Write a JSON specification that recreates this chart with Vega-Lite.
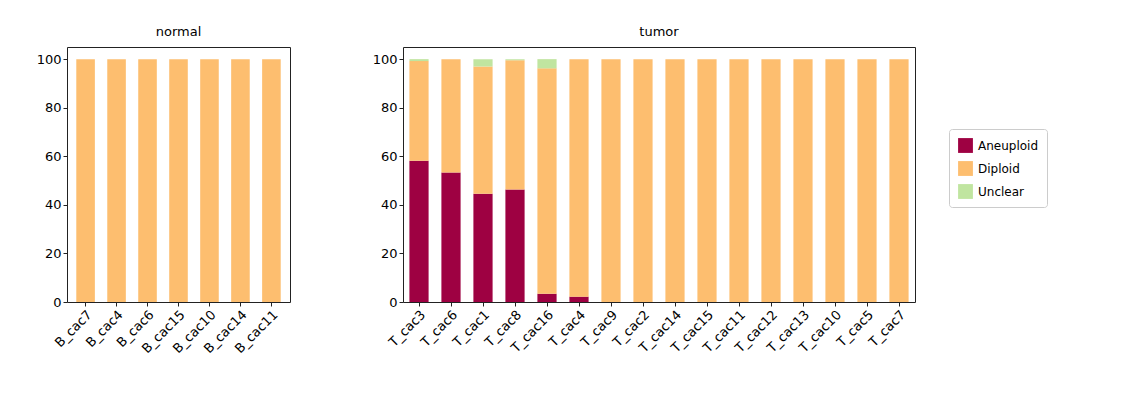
{
  "$schema": "https://vega.github.io/schema/vega-lite/v6.json",
  "padding": {"top": 25, "left": 35, "right": 5, "bottom": 5},
  "config": {
    "font": "DejaVu Sans",
    "view": {"stroke": "#222", "strokeWidth": 1},
    "axis": {"labelFontSize": 13, "labelColor": "#000", "tickColor": "#222", "domain": false, "grid": false, "tickSize": 4},
    "title": {"fontSize": 13, "fontWeight": "normal", "offset": 8},
    "legend": {"strokeColor": "#ccc", "padding": 8, "cornerRadius": 3, "labelFontSize": 12, "symbolType": "square", "symbolSize": 220, "rowPadding": 7, "orient": "none", "legendX": 882, "legendY": 82}
  },
  "spacing": 80,
  "datasets": {
    "rows": [
      {"sample": "B_cac7", "group": "normal", "status": "Diploid", "pct": 100},
      {"sample": "B_cac4", "group": "normal", "status": "Diploid", "pct": 100},
      {"sample": "B_cac6", "group": "normal", "status": "Diploid", "pct": 100},
      {"sample": "B_cac15", "group": "normal", "status": "Diploid", "pct": 100},
      {"sample": "B_cac10", "group": "normal", "status": "Diploid", "pct": 100},
      {"sample": "B_cac14", "group": "normal", "status": "Diploid", "pct": 100},
      {"sample": "B_cac11", "group": "normal", "status": "Diploid", "pct": 100},
      {"sample": "T_cac3", "group": "tumor", "status": "Aneuploid", "pct": 58.2},
      {"sample": "T_cac3", "group": "tumor", "status": "Diploid", "pct": 41.0},
      {"sample": "T_cac3", "group": "tumor", "status": "Unclear", "pct": 0.8},
      {"sample": "T_cac6", "group": "tumor", "status": "Aneuploid", "pct": 53.3},
      {"sample": "T_cac6", "group": "tumor", "status": "Diploid", "pct": 46.7},
      {"sample": "T_cac1", "group": "tumor", "status": "Aneuploid", "pct": 44.6},
      {"sample": "T_cac1", "group": "tumor", "status": "Diploid", "pct": 52.4},
      {"sample": "T_cac1", "group": "tumor", "status": "Unclear", "pct": 3.0},
      {"sample": "T_cac8", "group": "tumor", "status": "Aneuploid", "pct": 46.3},
      {"sample": "T_cac8", "group": "tumor", "status": "Diploid", "pct": 53.2},
      {"sample": "T_cac8", "group": "tumor", "status": "Unclear", "pct": 0.5},
      {"sample": "T_cac16", "group": "tumor", "status": "Aneuploid", "pct": 3.4},
      {"sample": "T_cac16", "group": "tumor", "status": "Diploid", "pct": 92.8},
      {"sample": "T_cac16", "group": "tumor", "status": "Unclear", "pct": 3.8},
      {"sample": "T_cac4", "group": "tumor", "status": "Aneuploid", "pct": 2.2},
      {"sample": "T_cac4", "group": "tumor", "status": "Diploid", "pct": 97.8},
      {"sample": "T_cac9", "group": "tumor", "status": "Diploid", "pct": 100},
      {"sample": "T_cac2", "group": "tumor", "status": "Diploid", "pct": 100},
      {"sample": "T_cac14", "group": "tumor", "status": "Diploid", "pct": 100},
      {"sample": "T_cac15", "group": "tumor", "status": "Diploid", "pct": 100},
      {"sample": "T_cac11", "group": "tumor", "status": "Diploid", "pct": 100},
      {"sample": "T_cac12", "group": "tumor", "status": "Diploid", "pct": 100},
      {"sample": "T_cac13", "group": "tumor", "status": "Diploid", "pct": 100},
      {"sample": "T_cac10", "group": "tumor", "status": "Diploid", "pct": 100},
      {"sample": "T_cac5", "group": "tumor", "status": "Diploid", "pct": 100},
      {"sample": "T_cac7", "group": "tumor", "status": "Diploid", "pct": 100}
    ]
  },
  "hconcat": [
    {
      "title": "normal",
      "width": 223,
      "height": 255,
      "data": {"name": "rows"},
      "transform": [{"filter": "datum.group == 'normal'"}],
      "mark": {"type": "bar"},
      "encoding": {
        "x": {"field": "sample", "type": "nominal", "sort": null, "title": null,
              "scale": {"paddingInner": 0.4, "paddingOuter": 0.3},
              "axis": {"labelAngle": -45, "labelAlign": "right", "labelBaseline": "top"}},
        "y": {"field": "pct", "type": "quantitative", "aggregate": "sum", "title": null,
              "scale": {"domain": [0, 105], "nice": false}, "axis": {"values": [0, 20, 40, 60, 80, 100]}},
        "color": {"field": "status", "type": "nominal", "title": null,
                  "scale": {"domain": ["Aneuploid", "Diploid", "Unclear"], "range": ["#9e0142", "#fdbe6f", "#c0e5a0"]}},
        "order": {"field": "status", "sort": "ascending"}
      }
    },
    {
      "title": "tumor",
      "width": 512,
      "height": 255,
      "data": {"name": "rows"},
      "transform": [{"filter": "datum.group == 'tumor'"}],
      "mark": {"type": "bar"},
      "encoding": {
        "x": {"field": "sample", "type": "nominal", "sort": null, "title": null,
              "scale": {"paddingInner": 0.4, "paddingOuter": 0.2},
              "axis": {"labelAngle": -45, "labelAlign": "right", "labelBaseline": "top"}},
        "y": {"field": "pct", "type": "quantitative", "aggregate": "sum", "title": null,
              "scale": {"domain": [0, 105], "nice": false}, "axis": {"values": [0, 20, 40, 60, 80, 100]}},
        "color": {"field": "status", "type": "nominal", "title": null,
                  "scale": {"domain": ["Aneuploid", "Diploid", "Unclear"], "range": ["#9e0142", "#fdbe6f", "#c0e5a0"]}},
        "order": {"field": "status", "sort": "ascending"}
      }
    }
  ]
}
